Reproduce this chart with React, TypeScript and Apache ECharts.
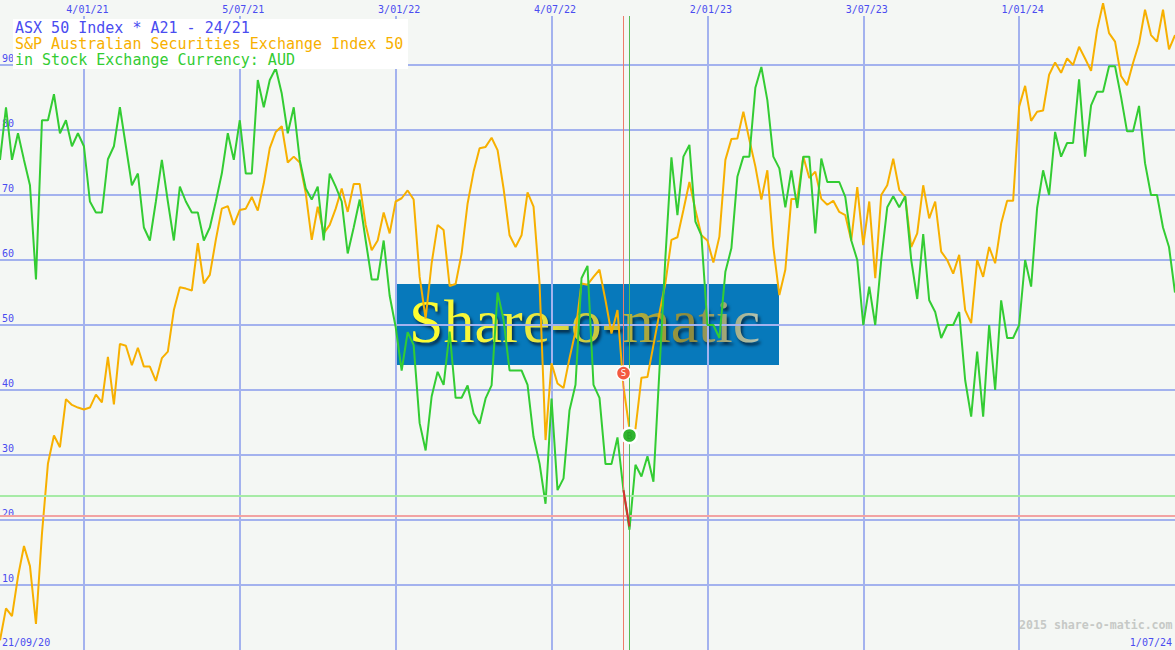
import React, { useEffect, useRef } from "react";
import * as echarts from "echarts";

const greenValues = [
  75.4,83.5,75.4,79.5,75.4,71.5,57,81.5,81.5,85.5,79.5,81.5,77.5,79.5,77.5,69,67.3,67.3,75.5,77.5,
  83.5,77.5,71.5,73.3,65,63,69,75.4,69,63,71.3,69,67.3,67.3,63,65,69,73.3,79.5,75.4,
  81.5,73.3,73.3,87.7,83.5,87.7,89.5,85.6,79.5,83.5,75.4,71,69.3,71.3,63,73.3,71.3,69,61,65,
  69.3,63,57,57,63,54.5,49.7,43,48.9,46.9,34.9,30.7,39,42.8,40.8,49,38.8,38.8,40.7,36.4,
  34.8,38.7,40.7,55,50.8,43,43,43,40.8,32.8,28.7,22.5,38.7,24.6,26.4,36.9,40.8,57.2,59.1,40.8,
  38.8,28.6,28.6,32.7,24.6,18.5,28.5,26.7,29.8,25.9,43,60.5,75.8,66.9,75.9,77.7,65.9,63.8,50,50,
  48,58.2,61.8,72.8,75.9,75.9,86.5,89.7,84.6,75.9,74.1,68.1,73.8,68,75.9,75.9,64.1,75.6,72,72,
  72,69.7,63,60,50,55.9,50,60,68.1,69.8,68.1,69.8,60,54,64,53.8,52,48,50,50,
  52,41.5,35.9,45.9,35.9,50,40,53.8,48,48,50,60,55.9,68,73.8,70,79.7,75.9,78,78,
  87.8,75.9,83.8,85.9,85.9,89.8,89.8,85.1,79.8,79.8,83.7,74.9,70,70,65,62,55,
];
const orangeValues = [
  1.5,6.4,5.2,11.3,16,12.9,4,17.9,28.7,33,31.2,38.6,37.7,37.3,37,37.3,39.3,38.1,45.1,37.8,
  47.1,46.8,43.8,46.5,43.6,43.6,41.4,44.9,45.9,52.3,55.8,55.6,55.3,62.6,56.4,57.7,63.1,67.9,68.3,65.4,
  67.7,67.9,69.7,67.6,71.8,77.2,79.7,80.6,75,75.9,75,70.3,63.1,68.2,64.1,65.4,67.9,71,67.4,71.7,
  71.7,65.4,61.5,63,67.3,64.1,69,69.5,70.7,69.3,57.4,51,59.5,65.4,64.6,56,56.3,61,68.7,73.6,
  77.2,77.4,78.8,76.9,71,63.8,62,63.8,70.4,68.2,56.4,32.3,44.1,41,40.3,44.9,49,56.4,56.2,57.4,
  58.5,53.8,48.7,52.3,40.5,34,34,41.9,42,46.9,51.8,56.5,63.1,63.5,67.7,72,67.7,63.8,63,59.6,
  63.6,75.4,78.6,78.7,82.8,78.5,74.4,69.3,73.8,62,54.6,58.5,69.4,69.4,75.9,72.6,73.6,69.4,68.5,69.1,
  67.4,66.9,63,71.2,62.3,69,57.2,70,71.5,75.6,70.8,69.7,62,64.1,71.5,66.4,69,61.3,60,57.9,
  60.8,52.3,50.3,60,57.4,62,59.5,65.6,69.1,69.1,83.6,86.8,81.4,82.8,83,88.5,90.4,88.8,91,90,
  92.8,91,89.1,95.4,99.5,94.9,93.6,88.3,86.9,90.3,93.3,98.5,94.6,93.6,98.5,92.4,94.6,
];
const redSegment = [[104, 24.6], [105, 19]];
const sellPoint = [104, 42.6];
const buyPoint = [105, 33];
const sellLine = 20.6;
const buyLine = 23.7;
const tickIndices = [14, 40, 66, 92, 118, 144, 170];
const titleLines = [
  "ASX 50 Index * A21 - 24/21",
  "S&P Australian Securities Exchange Index 50",
  "in Stock Exchange Currency: AUD",
];
const logoText = "Share-o-matic";

const categories = greenValues.map((_, i) => {
  const d = new Date(Date.UTC(2020, 8, 21 + (i === 0 ? 0 : (i + 1) * 7)));
  const m = String(d.getUTCMonth() + 1).padStart(2, "0");
  const y = String(d.getUTCFullYear()).slice(2);
  return `${d.getUTCDate()}/${m}/${y}`;
});

const MONO = "'DejaVu Sans Mono', monospace";
const BLUE = "#4a4cf0";
const ORANGE = "#f7b000";
const GREEN = "#33cc33";
const GRID = "#a3b2ee";

export default function App() {
  const ref = useRef<HTMLDivElement>(null);
  useEffect(() => {
    document.body.style.margin = "0";
    const chart = echarts.init(ref.current!, null, { renderer: "svg" });
    const isTick = (i: number) => tickIndices.includes(i);
    const last = categories.length - 1;
    chart.setOption({
      animation: false,
      backgroundColor: "#f4f7f4",
      grid: { left: 0, right: 0, top: 16, bottom: 0, outerBoundsMode: "none" },
      xAxis: [
        {
          type: "category",
          position: "top",
          data: categories,
          boundaryGap: false,
          axisLine: { show: false },
          axisTick: { show: false },
          axisLabel: {
            interval: (i: number) => isTick(i),
            margin: 2,
            color: BLUE,
            fontFamily: MONO,
            fontSize: 10,
            padding: [0, 0, 0, 7],
          },
          splitLine: {
            show: true,
            interval: (i: number) => isTick(i),
            lineStyle: { color: GRID, width: 2 },
          },
        },
        {
          type: "category",
          position: "bottom",
          data: categories,
          boundaryGap: false,
          axisLine: { show: false },
          axisTick: { show: false },
          splitLine: { show: false },
          axisLabel: {
            inside: true,
            interval: (i: number) => i === 0 || i === last,
            showMinLabel: true,
            showMaxLabel: true,
            alignMinLabel: "left",
            alignMaxLabel: "right",
            margin: 3,
            color: BLUE,
            fontFamily: MONO,
            fontSize: 10,
            padding: [0, 3, 0, 2],
          },
        },
      ],
      yAxis: {
        type: "value",
        min: 0,
        max: (650 - 16) / 6.5,
        interval: 10,
        axisLine: { show: false },
        axisTick: { show: false },
        axisLabel: {
          inside: true,
          margin: 2,
          color: BLUE,
          fontFamily: MONO,
          fontSize: 10,
          verticalAlign: "bottom",
          lineHeight: 12,
          padding: [0, 0, 1, 0],
          showMinLabel: false,
          showMaxLabel: false,
        },
        splitLine: {
          show: true,
          showMinLine: false,
          showMaxLine: false,
          lineStyle: { color: GRID, width: 2 },
        },
      },
      series: [
        {
          name: "S&P Australian Securities Exchange Index 50",
          type: "line",
          data: orangeValues,
          clip: false,
          z: 3,
          showSymbol: false,
          symbol: "none",
          lineStyle: { color: ORANGE, width: 2 },
          markLine: {
            silent: true,
            symbol: "none",
            label: { show: false },
            data: [
              { yAxis: buyLine, lineStyle: { color: "#a6eba6", width: 2, type: "solid" } },
              { yAxis: sellLine, lineStyle: { color: "#f2a3a3", width: 2, type: "solid" } },
            ],
          },
        },
        {
          name: "Currency",
          type: "line",
          data: greenValues,
          clip: false,
          z: 4,
          showSymbol: false,
          symbol: "none",
          lineStyle: { color: GREEN, width: 2 },
        },
        {
          name: "Drop",
          type: "line",
          data: redSegment,
          z: 5,
          showSymbol: false,
          symbol: "none",
          lineStyle: { color: "#d43030", width: 2 },
          markLine: {
            silent: true,
            symbol: "none",
            label: { show: false },
            data: [
              { xAxis: sellPoint[0], lineStyle: { color: "#ee7a6a", width: 1, type: "solid" } },
              { xAxis: buyPoint[0], lineStyle: { color: "#55bb55", width: 1, type: "solid" } },
            ],
          },
        },
        {
          name: "Sell",
          type: "scatter",
          data: [sellPoint],
          z: 6,
          symbolSize: 14,
          itemStyle: { color: "#f45a40", borderColor: "#ffffff", borderWidth: 1.5, opacity: 1 },
          label: { show: true, position: "inside", formatter: "S", color: "#ffffff", fontSize: 9, fontFamily: MONO },
        },
        {
          name: "Buy",
          type: "scatter",
          data: [buyPoint],
          z: 6,
          symbolSize: 15,
          itemStyle: { color: "#2fb52f", borderColor: "#ffffff", borderWidth: 2.5, opacity: 1 },
          label: { show: true, position: "inside", formatter: "B", color: "#27a027", fontSize: 9, fontFamily: MONO },
        },
      ],
      graphic: [
        { type: "rect", z: -2, shape: { x: 397, y: 284, width: 382, height: 81 }, style: { fill: "#0779bb" } },
        {
          type: "text", z: -1, x: 409, y: 290,
          style: {
            text: logoText,
            fill: "#d8d850",
            font: "62px 'Liberation Serif', serif",
          },
        },
        { type: "rect", z: 100, shape: { x: 13, y: 19, width: 395, height: 50 }, style: { fill: "#ffffff" } },
        { type: "text", z: 101, x: 15, y: 20, style: { text: titleLines[0], fill: BLUE, font: `15px ${MONO}` } },
        { type: "text", z: 101, x: 15, y: 36, style: { text: titleLines[1], fill: ORANGE, font: `15px ${MONO}` } },
        { type: "text", z: 101, x: 15, y: 52, style: { text: titleLines[2], fill: GREEN, font: `15px ${MONO}` } },
        {
          type: "text", z: 101, x: 1019, y: 619,
          style: { text: "2015 share-o-matic.com", fill: "#c6c9c6", font: `bold 11.6px ${MONO}` },
        },
      ],
    });

    // zrender's text drops gradient fills, so the logo's metallic gradient and
    // bevel shadow are applied directly to the SVG text node that it drew.
    const svg = ref.current!.querySelector("svg");
    if (svg) {
      const NS = "http://www.w3.org/2000/svg";
      const grad = document.createElementNS(NS, "linearGradient");
      grad.setAttribute("id", "logoMetal");
      grad.setAttribute("x1", "0");
      grad.setAttribute("x2", "1");
      grad.setAttribute("y1", "0");
      grad.setAttribute("y2", "0");
      const stops: [string, string][] = [
        ["0", "#ffff30"],
        ["0.3", "#f0f040"],
        ["0.55", "#c8c440"],
        ["0.8", "#8c8a3c"],
        ["1", "#b4c4b4"],
      ];
      stops.forEach(([offset, color]) => {
        const s = document.createElementNS(NS, "stop");
        s.setAttribute("offset", offset);
        s.setAttribute("stop-color", color);
        grad.appendChild(s);
      });
      const defs = svg.querySelector("defs") || svg.insertBefore(document.createElementNS(NS, "defs"), svg.firstChild);
      defs.appendChild(grad);
      svg.querySelectorAll("text").forEach((t) => {
        if (t.textContent === logoText) {
          t.setAttribute("fill", "url(#logoMetal)");
          t.style.fill = "url(#logoMetal)";
          t.style.filter = "drop-shadow(2px 3px 1.5px #04304f)";
        }
      });
    }
    return () => chart.dispose();
  }, []);
  return <div ref={ref} style={{ width: 1175, height: 650 }} />;
}
